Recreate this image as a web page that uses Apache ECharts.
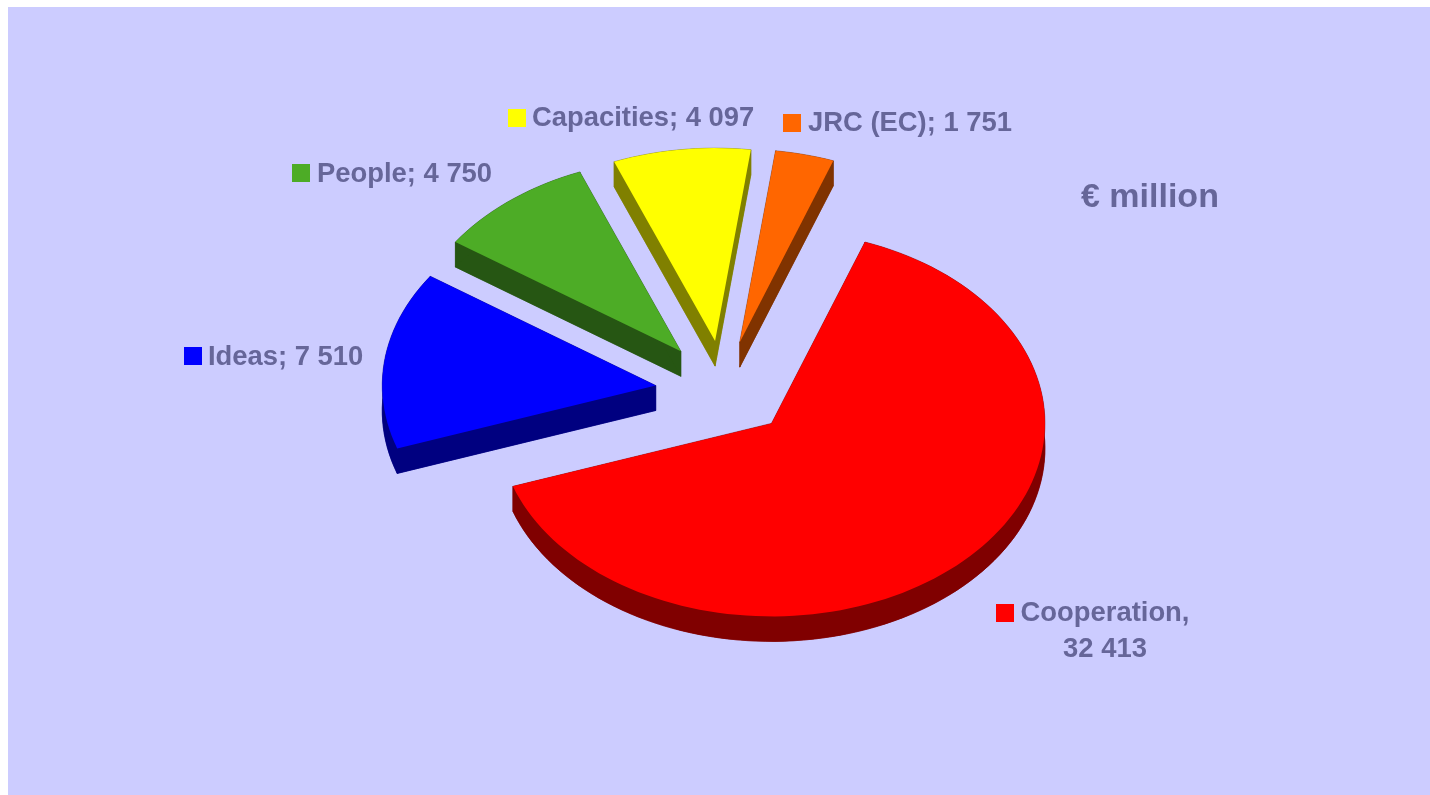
<!DOCTYPE html>
<html>
<head>
<meta charset="utf-8">
<title>Pie</title>
<style>
  html, body { margin: 0; height: 100%; background: #fff; }
  #main { width: 1430px; height: 795px; }
</style>
</head>
<body>
<div id="main"></div>
<script src="https://cdn.jsdelivr.net/npm/echarts@6/dist/echarts.min.js"></script>
<script>
// data, € million
var categories = ['Cooperation', 'Ideas', 'People', 'Capacities', 'JRC (EC)'];
var values = [32413, 7510, 4750, 4097, 1751];
var separators = [',\n', '; ', '; ', '; ', '; '];

var topColors = ['#FF0000', '#0000FF', '#4DAC26', '#FFFF00', '#FF6600'];
var wallColors = ['#800000', '#000080', '#265613', '#808000', '#803300'];

// pie geometry (flattened circle, angles clockwise from 12 o'clock)
var pie = { cx: 723.5, cy: 389, rx: 273.5, ry: 193, depth: 25, startAngle: 20, explode: 0.25 };

// label placement: swatch corner, text anchor. dy nudges the blue slice down a bit
var labelLayout = [
  { sx: 996, sy: 604, tx: 1105, ty: 631, align: 'center', dy: 0 },
  { sx: 184, sy: 347, tx: 208, ty: 357, align: 'left', dy: 3 },
  { sx: 292, sy: 164, tx: 317, ty: 174, align: 'left', dy: 0 },
  { sx: 508, sy: 109, tx: 532, ty: 118, align: 'left', dy: 0 },
  { sx: 783, sy: 114, tx: 808, ty: 123, align: 'left', dy: 0 }
];

var textColor = '#666699';
var total = values.reduce(function (a, b) { return a + b; }, 0);

function fmt(v) {
  return String(v).replace(/\B(?=(\d{3})+$)/g, ' ');
}

function rad(a) { return a * Math.PI / 180; }

function renderSlice(params, api) {
  var i = params.dataIndex;
  var lay = labelLayout[i];
  var before = 0;
  for (var k = 0; k < i; k++) before += values[k];
  var a0 = pie.startAngle + before / total * 360;
  var a1 = a0 + api.value(1) / total * 360;
  var mid = (a0 + a1) / 2;

  // exploded apex
  var ax = pie.cx + pie.explode * pie.rx * Math.sin(rad(mid));
  var ay = pie.cy - pie.explode * pie.ry * Math.cos(rad(mid)) + lay.dy;

  var arc = [];
  var steps = Math.ceil((a1 - a0) / 2);
  for (var s = 0; s <= steps; s++) {
    var a = a0 + (a1 - a0) * s / steps;
    arc.push([ax + pie.rx * Math.sin(rad(a)), ay - pie.ry * Math.cos(rad(a))]);
  }
  function down(p) { return [p[0], p[1] + pie.depth]; }

  var first = arc[0], last = arc[arc.length - 1], apex = [ax, ay];
  var topFace = [apex].concat(arc);
  var band = arc.concat(arc.slice().reverse().map(down));
  var wallStyle = { fill: wallColors[i], stroke: wallColors[i], lineWidth: 0.5 };

  return {
    type: 'group',
    children: [
      { type: 'polygon', shape: { points: topFace.map(down) }, style: wallStyle },
      { type: 'polygon', shape: { points: [apex, first, down(first), down(apex)] }, style: wallStyle },
      { type: 'polygon', shape: { points: [apex, last, down(last), down(apex)] }, style: wallStyle },
      { type: 'polygon', shape: { points: band }, style: wallStyle },
      { type: 'polygon', shape: { points: topFace }, style: { fill: topColors[i] } },
      { type: 'rect', shape: { x: lay.sx, y: lay.sy, width: 18, height: 18 }, style: { fill: topColors[i] } },
      {
        type: 'text',
        style: {
          x: lay.tx,
          y: lay.ty,
          text: categories[i] + separators[i] + fmt(api.value(1)),
          fill: textColor,
          font: 'bold 27.4px "Liberation Sans", Arial, sans-serif',
          lineHeight: 36,
          textAlign: lay.align,
          textVerticalAlign: 'middle'
        }
      }
    ]
  };
}

var chart = echarts.init(document.getElementById('main'));
chart.setOption({
  animation: false,
  backgroundColor: '#FFFFFF',
  graphic: [{
    type: 'rect',
    z: -1,
    shape: { x: 8, y: 7, width: 1422, height: 788 },
    style: { fill: '#CCCCFF' }
  }],
  title: {
    text: '€ million',
    left: 1076,
    top: 176,
    textStyle: {
      color: textColor,
      fontFamily: '"Liberation Sans", Arial, sans-serif',
      fontWeight: 'bold',
      fontSize: 34
    }
  },
  series: [{
    type: 'custom',
    coordinateSystem: 'none',
    silent: true,
    renderItem: renderSlice,
    data: values.map(function (v, i) { return [i, v]; })
  }]
});
window.onresize = chart.resize;
</script>
</body>
</html>
